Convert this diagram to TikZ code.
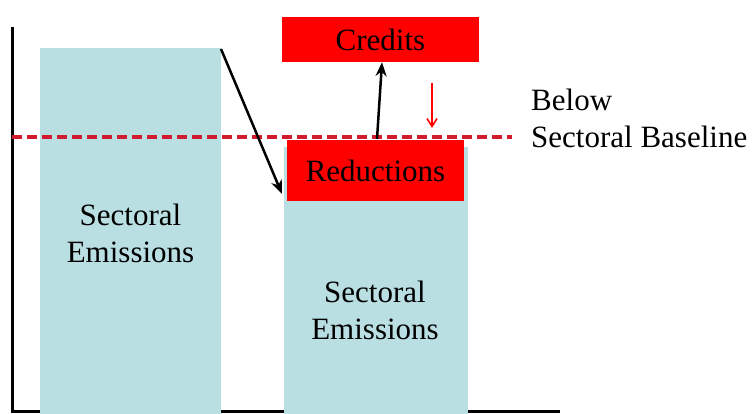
\documentclass[tikz,border=0pt]{standalone}
\usepackage{fontspec}
\setmainfont{Liberation Serif}
\newfontfamily\tms{Liberation Serif}
\usetikzlibrary{arrows.meta}
\definecolor{barblue}{HTML}{B9DFE3}
\definecolor{dashred}{HTML}{D01C2C}
\definecolor{boxred}{HTML}{FF0000}
\tikzset{
  bar/.style={fill=barblue, draw=none},
  redbox/.style={fill=boxred, draw=none, inner sep=0pt},
  axis/.style={line width=3pt, black},
  lbl/.style={font=\tms\fontsize{31}{37}\selectfont, align=center, inner sep=0pt},
  blackarrow/.style={line width=2.5pt, -{Stealth[length=14pt,width=11pt]}},
}
\begin{document}
\begin{tikzpicture}[x=1pt,y=-1pt]
\useasboundingbox (0,0) rectangle (755,414);
% axes
\coordinate (ytop) at (12,27);
\coordinate (origin) at (12,411);
\coordinate (xend) at (560,411);
\draw[axis] (ytop) -- (origin) -- (xend);
% bars
\fill[bar] (40,48) rectangle (221,416);
\fill[bar] (284,147) rectangle (468,416);
% baseline
\coordinate (dl) at (12,137);
\coordinate (dr) at (512,137);
\draw[dashred, line width=4pt, dash pattern=on 10pt off 5pt] (dl) -- (dr);
% boxes
\node[redbox, minimum width=197pt, minimum height=45pt, lbl] (credits) at (380.5,39.5) {Credits};
\node[redbox, minimum width=177pt, minimum height=61pt, lbl] (reductions) at (375.5,170.5) {Reductions};
% labels
\node[lbl] (lefttext) at (130.5,233) {Sectoral\\Emissions};
\node[lbl] (righttext) at (375,310) {Sectoral\\Emissions};
\node[lbl, align=left, anchor=west] (below) at (531,118) {Below\\Sectoral Baseline};
% arrows
\coordinate (a1) at (221,49);
\coordinate (a2) at (282,194);
\draw[blackarrow] (a1) -- (a2);
\coordinate (b1) at (377,139);
\draw[blackarrow] (b1) -- (credits.south -| 382,0);
\coordinate (r1) at (432,83);
\coordinate (r2) at (432,128);
\draw[boxred, line width=1.6pt, -{Straight Barb[length=8pt,width=10pt]}] (r1) -- (r2);
\end{tikzpicture}
\end{document}
